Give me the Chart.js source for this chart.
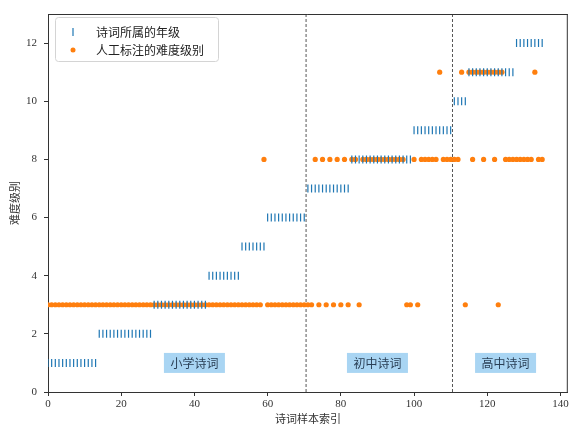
<!DOCTYPE html>
<html>
<head>
<meta charset="utf-8">
<script src="https://cdn.jsdelivr.net/npm/chart.js@4.4.1/dist/chart.umd.min.js"></script>
<style>
  html, body { margin: 0; padding: 0; background: #fff; }
  #wrap { width: 573px; height: 426px; }
</style>
</head>
<body>
<div id="wrap"><canvas id="chart" width="573" height="426"></canvas></div>
<script>
const xTicks = [0, 20, 40, 60, 80, 100, 120, 140];
const yTicks = [0, 2, 4, 6, 8, 10, 12];

// grade of each poem, poem index = position in the array
const poemGrades = [
  1, 1, 1, 1, 1, 1, 1, 1, 1, 1, 1, 1, 1, 1,             // 0-13
  2, 2, 2, 2, 2, 2, 2, 2, 2, 2, 2, 2, 2, 2, 2,          // 14-28
  3, 3, 3, 3, 3, 3, 3, 3, 3, 3, 3, 3, 3, 3, 3,          // 29-43
  4, 4, 4, 4, 4, 4, 4, 4, 4,                            // 44-52
  5, 5, 5, 5, 5, 5, 5,                                  // 53-59
  6, 6, 6, 6, 6, 6, 6, 6, 6, 6, 6,                      // 60-70
  7, 7, 7, 7, 7, 7, 7, 7, 7, 7, 7, 7,                   // 71-82
  8, 8, 8, 8, 8, 8, 8, 8, 8, 8, 8, 8, 8, 8, 8, 8, 8,    // 83-99
  9, 9, 9, 9, 9, 9, 9, 9, 9, 9, 9,                      // 100-110
  10, 10, 10, 10,                                       // 111-114
  11, 11, 11, 11, 11, 11, 11, 11, 11, 11, 11, 11, 11,   // 115-127
  12, 12, 12, 12, 12, 12, 12, 12                        // 128-135
];

// poem indices per manually labelled difficulty level
const level3Idx = [
  0, 1, 2, 3, 4, 5, 6, 7, 8, 9, 10, 11, 12, 13, 14, 15, 16, 17, 18, 19,
  20, 21, 22, 23, 24, 25, 26, 27, 28, 29, 30, 31, 32, 33, 34, 35, 36, 37, 38, 39,
  40, 41, 42, 43, 44, 45, 46, 47, 48, 49, 50, 51, 52, 53, 54, 55, 56, 57, 58,
  60, 61, 62, 63, 64, 65, 66, 67, 68, 69, 70, 71, 72,
  74, 76, 78, 80, 82, 85, 98, 99, 101, 114, 123
];
const level8Idx = [
  59, 73, 75, 77, 79, 81, 83, 84,
  86, 87, 88, 89, 90, 91, 92, 93, 94, 95, 96, 97,
  100, 102, 103, 104, 105, 106, 108, 109, 110, 111, 112,
  116, 119, 122, 125, 126, 127, 128, 129, 130, 131, 132, 134, 135
];
const level11Idx = [107, 113, 115, 116, 117, 118, 119, 120, 121, 122, 123, 124, 133];

const sectionBounds = [70.5, 110.5];
const sectionNames = ["小学诗词", "初中诗词", "高中诗词"];
const sectionLabelX = [40, 90, 125];
const sectionLabelY = 1;

const legendNames = ["诗词所属的年级", "人工标注的难度级别"];

const BLUE = "#1f77b4";
const ORANGE = "#ff7f0e";
const CJK = '"Noto Sans CJK SC", sans-serif';
const SERIF = '"Liberation Serif", "DejaVu Serif", serif';

const gradePoints = poemGrades.map((g, i) => ({ x: i, y: g }));
const levelPoints = [
  ...level3Idx.map((i) => ({ x: i, y: 3 })),
  ...level8Idx.map((i) => ({ x: i, y: 8 })),
  ...level11Idx.map((i) => ({ x: i, y: 11 })),
];

const boundaryLines = sectionBounds.map((b) => ({
  type: "line",
  data: [{ x: b, y: 0 }, { x: b, y: 13 }],
  borderColor: "#555",
  borderWidth: 1,
  borderDash: [3, 2],
  pointRadius: 0,
  showLine: true,
}));

// section labels, legend box and top/right spines
const decorPlugin = {
  id: "decor",
  afterDatasetsDraw(chart) {
    const { ctx, chartArea: a, scales } = chart;
    const x = scales.x, y = scales.y;
    ctx.save();

    ctx.font = "12px " + CJK;
    ctx.textAlign = "center";
    ctx.textBaseline = "middle";
    sectionNames.forEach((name, k) => {
      const px = x.getPixelForValue(sectionLabelX[k]);
      const py = y.getPixelForValue(sectionLabelY);
      const w = ctx.measureText(name).width + 13;
      const h = 20;
      ctx.fillStyle = "#a9d5f3";
      ctx.fillRect(px - w / 2, py - h / 2, w, h);
      ctx.fillStyle = "#2a3f55";
      ctx.fillText(name, px, py + 1);
    });

    // legend
    const lx = a.left + 7, ly = a.top + 3, lw = 163, lh = 44;
    ctx.beginPath();
    ctx.roundRect(lx + 0.5, ly + 0.5, lw, lh, 3);
    ctx.fillStyle = "rgba(255,255,255,0.85)";
    ctx.fill();
    ctx.strokeStyle = "#d4d4d4";
    ctx.lineWidth = 1;
    ctx.stroke();

    ctx.strokeStyle = BLUE;
    ctx.lineWidth = 1.2;
    ctx.beginPath();
    ctx.moveTo(lx + 18, ly + 11);
    ctx.lineTo(lx + 18, ly + 19);
    ctx.stroke();
    ctx.fillStyle = ORANGE;
    ctx.beginPath();
    ctx.arc(lx + 18, ly + 33, 2.5, 0, Math.PI * 2);
    ctx.fill();

    ctx.fillStyle = "#222";
    ctx.textAlign = "left";
    ctx.fillText(legendNames[0], lx + 41, ly + 15);
    ctx.fillText(legendNames[1], lx + 41, ly + 33);

    ctx.strokeStyle = "#333";
    ctx.lineWidth = 1;
    ctx.beginPath();
    ctx.moveTo(a.left, a.top + 0.5);
    ctx.lineTo(a.right, a.top + 0.5);
    ctx.moveTo(a.right - 0.5, a.top);
    ctx.lineTo(a.right - 0.5, a.bottom);
    ctx.stroke();
    ctx.restore();
  },
};

new Chart(document.getElementById("chart"), {
  type: "scatter",
  data: {
    datasets: [
      {
        label: legendNames[0],
        data: gradePoints,
        pointStyle: "line",
        rotation: 90,
        pointRadius: 4,
        borderColor: BLUE,
        backgroundColor: BLUE,
        pointBorderWidth: 1.2,
      },
      {
        label: legendNames[1],
        data: levelPoints,
        pointStyle: "circle",
        pointRadius: 2.6,
        pointBorderWidth: 0,
        backgroundColor: ORANGE,
        borderColor: ORANGE,
      },
      ...boundaryLines,
    ],
  },
  options: {
    responsive: false,
    animation: false,
    devicePixelRatio: 1,
    layout: { padding: { top: 14, right: 4, left: 0, bottom: 0 } },
    plugins: {
      legend: { display: false },
      tooltip: { enabled: false },
    },
    scales: {
      x: {
        type: "linear",
        min: 0,
        max: 142,
        afterBuildTicks: (s) => { s.ticks = xTicks.map((v) => ({ value: v })); },
        afterFit: (s) => { s.height = 34; },
        border: { display: true, color: "#333", width: 1 },
        grid: { drawOnChartArea: false, drawTicks: true, tickLength: 4, color: "#333" },
        ticks: { color: "#333", padding: 2, font: { family: SERIF, size: 11 } },
        title: {
          display: true,
          text: "诗词样本索引",
          color: "#333",
          font: { family: CJK, size: 11 },
          padding: { top: 0, bottom: 1 },
        },
      },
      y: {
        type: "linear",
        min: 0,
        max: 13,
        afterBuildTicks: (s) => { s.ticks = yTicks.map((v) => ({ value: v })); },
        afterFit: (s) => { s.width = 48; },
        border: { display: true, color: "#333", width: 1 },
        grid: { drawOnChartArea: false, drawTicks: true, tickLength: 4, color: "#333" },
        ticks: { color: "#333", padding: 7, font: { family: SERIF, size: 11 } },
        title: {
          display: true,
          text: "难度级别",
          color: "#333",
          font: { family: CJK, size: 11 },
          padding: { top: 8, bottom: 0 },
        },
      },
    },
  },
  plugins: [decorPlugin],
});
</script>
</body>
</html>
